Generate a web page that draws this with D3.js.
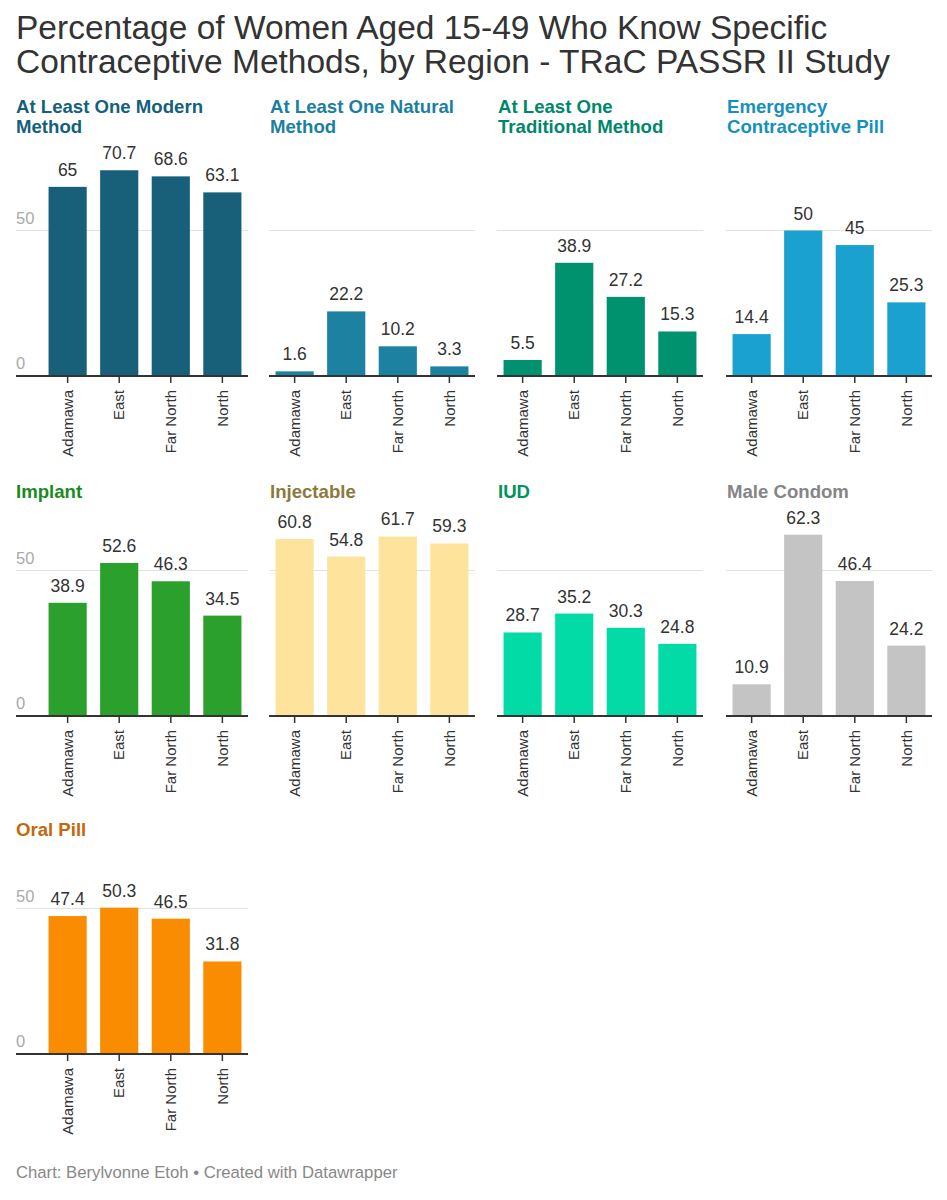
<!DOCTYPE html>
<html>
<head>
<meta charset="utf-8">
<script src="https://cdn.jsdelivr.net/npm/d3@7"></script>
<style>
  html, body { margin: 0; padding: 0; background: #fff; }
  svg { display: block; font-family: "Liberation Sans", Arial, Helvetica, sans-serif; }
</style>
</head>
<body>
<svg id="chart" width="947" height="1200"></svg>
<script>
// ---------- DATA ----------
const regions = ["Adamawa", "East", "Far North", "North"];
const panelTitles = [
  ["At Least One Modern", "Method"],
  ["At Least One Natural", "Method"],
  ["At Least One", "Traditional Method"],
  ["Emergency", "Contraceptive Pill"],
  ["Implant"],
  ["Injectable"],
  ["IUD"],
  ["Male Condom"],
  ["Oral Pill"]
];
const modernMethod      = [65, 70.7, 68.6, 63.1];
const naturalMethod     = [1.6, 22.2, 10.2, 3.3];
const traditionalMethod = [5.5, 38.9, 27.2, 15.3];
const emergencyPill     = [14.4, 50, 45, 25.3];
const implant           = [38.9, 52.6, 46.3, 34.5];
const injectable        = [60.8, 54.8, 61.7, 59.3];
const iud               = [28.7, 35.2, 30.3, 24.8];
const maleCondom        = [10.9, 62.3, 46.4, 24.2];
const oralPill          = [47.4, 50.3, 46.5, 31.8];
const yTicks = [0, 50];

const barColors   = ["#18607a", "#1d81a2", "#00916e", "#1aa1d0", "#2ca02c", "#fee39c", "#02dba6", "#c4c4c4", "#f98c00"];
const titleColors = ["#15607a", "#1b7fa0", "#00876a", "#1690bd", "#1a8a1c", "#8c7a3c", "#00935f", "#858585", "#c7660a"];

const seriesList = [modernMethod, naturalMethod, traditionalMethod, emergencyPill, implant, injectable, iud, maleCondom, oralPill];

// ---------- LAYOUT ----------
const svg = d3.select("#chart");
const colLeft = [42, 269, 497, 726];
const titleX  = [16, 270, 498, 727];
const plotW = 206;
const rowZero = [376, 716, 1054];
const rowTitleY = [113, 498, 836];
const pxPer50 = 145.5;

const FONT = '"Liberation Sans", Arial, Helvetica, sans-serif';

// main title
const mainTitle = svg.append("text")
  .attr("x", 16).attr("y", 39)
  .attr("fill", "#333")
  .style("font-size", "33.5px");
mainTitle.append("tspan").attr("x", 16).attr("y", 39).text("Percentage of Women Aged 15-49 Who Know Specific");
mainTitle.append("tspan").attr("x", 16).attr("y", 73).text("Contraceptive Methods, by Region - TRaC PASSR II Study");

seriesList.forEach((vals, i) => {
  const row = Math.floor(i / 4), col = i % 4;
  const left = colLeft[col];
  const zero = rowZero[row];
  const g = svg.append("g");

  // panel title
  const t = g.append("text")
    .attr("x", titleX[col]).attr("y", rowTitleY[row])
    .attr("fill", titleColors[i])
    .style("font-size", "18.6px").style("font-weight", "bold");
  panelTitles[i].forEach((line, k) => {
    t.append("tspan").attr("x", titleX[col]).attr("y", rowTitleY[row] + k * 20).text(line);
  });

  const x = d3.scaleBand().domain(regions).range([left, left + plotW])
    .paddingInner(0.26).paddingOuter(0.127);
  const y = d3.scaleLinear().domain([0, 50]).range([zero, zero - pxPer50]);

  const gridLeft = col === 0 ? 16 : left;

  // gridline at 50
  g.selectAll("line.grid").data(yTicks.filter(d => d !== 0)).enter().append("line")
    .attr("class", "grid")
    .attr("x1", gridLeft).attr("x2", left + plotW)
    .attr("y1", d => y(d)).attr("y2", d => y(d))
    .attr("stroke", "#e3e3e3").attr("stroke-width", 1);

  // y tick labels only on first column
  if (col === 0) {
    g.selectAll("text.ytick").data(yTicks).enter().append("text")
      .attr("class", "ytick")
      .attr("x", 16).attr("y", d => y(d) - 7)
      .attr("fill", "#aaa")
      .style("font-size", "16.5px")
      .text(d => d);
  }

  // bars
  g.selectAll("rect.bar").data(regions).enter().append("rect")
    .attr("class", "bar")
    .attr("x", d => x(d))
    .attr("width", x.bandwidth())
    .attr("y", (d, j) => y(vals[j]))
    .attr("height", (d, j) => zero - y(vals[j]))
    .attr("fill", barColors[i]);

  // value labels
  g.selectAll("text.val").data(regions).enter().append("text")
    .attr("class", "val")
    .attr("x", d => x(d) + x.bandwidth() / 2)
    .attr("y", (d, j) => y(vals[j]) - 11)
    .attr("text-anchor", "middle")
    .attr("fill", "#333")
    .style("font-size", "17.5px")
    .text((d, j) => vals[j]);

  // x axis
  const axis = d3.axisBottom(x).tickSize(7).tickSizeOuter(0).tickPadding(6);
  const ax = g.append("g").attr("transform", `translate(0,${zero})`).call(axis);
  ax.select(".domain").remove();
  ax.append("line")
    .attr("x1", gridLeft).attr("x2", left + plotW)
    .attr("y1", 0).attr("y2", 0)
    .attr("stroke", "#333").attr("stroke-width", 2);
  ax.selectAll(".tick line").attr("stroke", "#333").attr("stroke-width", 1.5);
  ax.selectAll(".tick text")
    .attr("fill", "#333")
    .style("font-family", FONT)
    .style("font-size", "15px")
    .attr("transform", "rotate(-90)")
    .attr("x", -14).attr("y", 0).attr("dy", "0.35em")
    .attr("text-anchor", "end");
});

// footer
svg.append("text")
  .attr("x", 16).attr("y", 1178)
  .attr("fill", "#888")
  .style("font-size", "16.7px")
  .text("Chart: Berylvonne Etoh \u2022 Created with Datawrapper");
</script>
</body>
</html>
